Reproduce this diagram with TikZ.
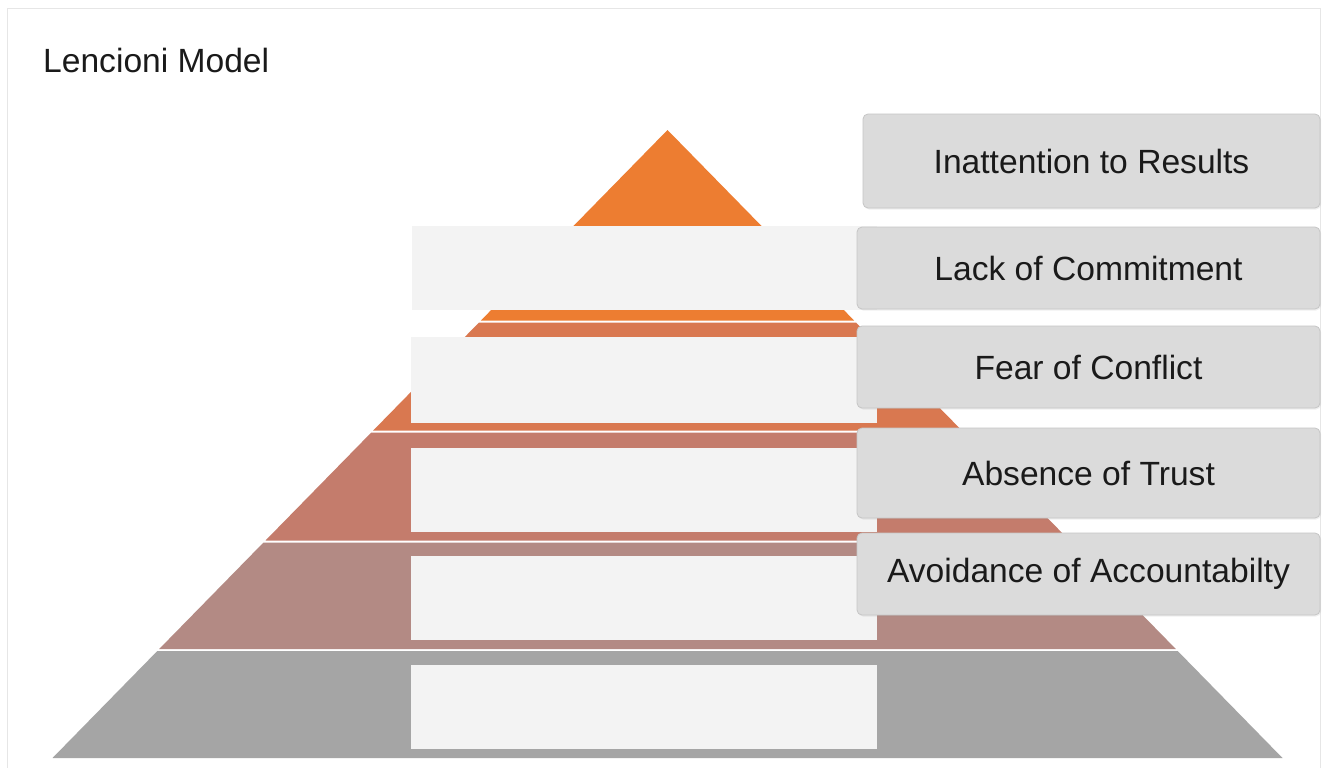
\documentclass[tikz,border=0pt]{standalone}
\usepackage{fontspec}
\setmainfont{Liberation Sans}
\usepackage{tikz}
\usetikzlibrary{shadows}

\definecolor{layA}{HTML}{ED7D31}
\definecolor{layB}{HTML}{D97850}
\definecolor{layC}{HTML}{C47C6C}
\definecolor{layD}{HTML}{B38A84}
\definecolor{layE}{HTML}{A5A5A5}
\definecolor{slotgray}{HTML}{F3F3F3}
\definecolor{tagfill}{HTML}{DBDBDB}
\definecolor{tagline}{HTML}{C6C6C6}
\definecolor{framegray}{HTML}{E6E6E6}
\definecolor{inkgray}{HTML}{1A1A1A}

\begin{document}
\begin{tikzpicture}[x=1pt, y=-1pt,
		slotbox/.style={fill=slotgray, inner sep=0pt, minimum width=466pt, minimum height=84pt},
		tagbox/.style={fill=tagfill, draw=tagline, line width=0.8pt, rounded corners=5pt,
			inner sep=0pt, minimum width=463pt, minimum height=82pt, text=inkgray,
			font=\fontsize{33.6}{40}\selectfont,
			drop shadow={opacity=0.12, shadow xshift=1pt, shadow yshift=-1.5pt}}]
			\useasboundingbox (0,0) rectangle (1322,768);
			\fill [white] (0,0) rectangle (1322,768);
			\draw [framegray, line width=1.2pt] (7.5,775)--(7.5,8.5)--(1320.5,8.5)--(1320.5,775);
			\node [anchor=base west, inner sep=0pt, text=inkgray, font=\fontsize{33.6}{40}\selectfont] (title) at (43,72) {Lencioni Model};
			\fill [layA] (667.5,130)--(854.1,320.5)--(480.9,320.5)--cycle;
			\fill [layB] (479.0,322.5)--(856.0,322.5)--(961.8,430.5)--(373.2,430.5)--cycle;
			\fill [layC] (371.3,432.5)--(963.7,432.5)--(1069.5,540.5)--(265.5,540.5)--cycle;
			\fill [layD] (263.5,542.5)--(1071.5,542.5)--(1175.8,649)--(159.2,649)--cycle;
			\fill [layE] (157.3,651)--(1177.7,651)--(1282.5,758)--(52.5,758)--cycle;
			\node [slotbox, minimum width=465pt] (slot1) at (644.5,268) {};
			\node [slotbox, minimum height=86pt] (slot2) at (643.5,380) {};
			\node [slotbox] (slot3) at (643.5,490) {};
			\node [slotbox] (slot4) at (643.5,598) {};
			\node [slotbox] (slot5) at (643.5,707) {};
			\node [tagbox, minimum width=457pt, minimum height=94pt] (results) at (1091.5,161) {Inattention to Results};
			\node [tagbox] (commitment) at (1088.5,268) {Lack of Commitment};
			\node [tagbox] (conflict) at (1088.5,367) {Fear of Conflict};
			\node [tagbox, minimum height=90pt] (trust) at (1088.5,473) {Absence of Trust};
			\node [tagbox] (accountability) at (1088.5,574) {Avoidance of Accountabilty};
		\end{tikzpicture}
\end{document}
